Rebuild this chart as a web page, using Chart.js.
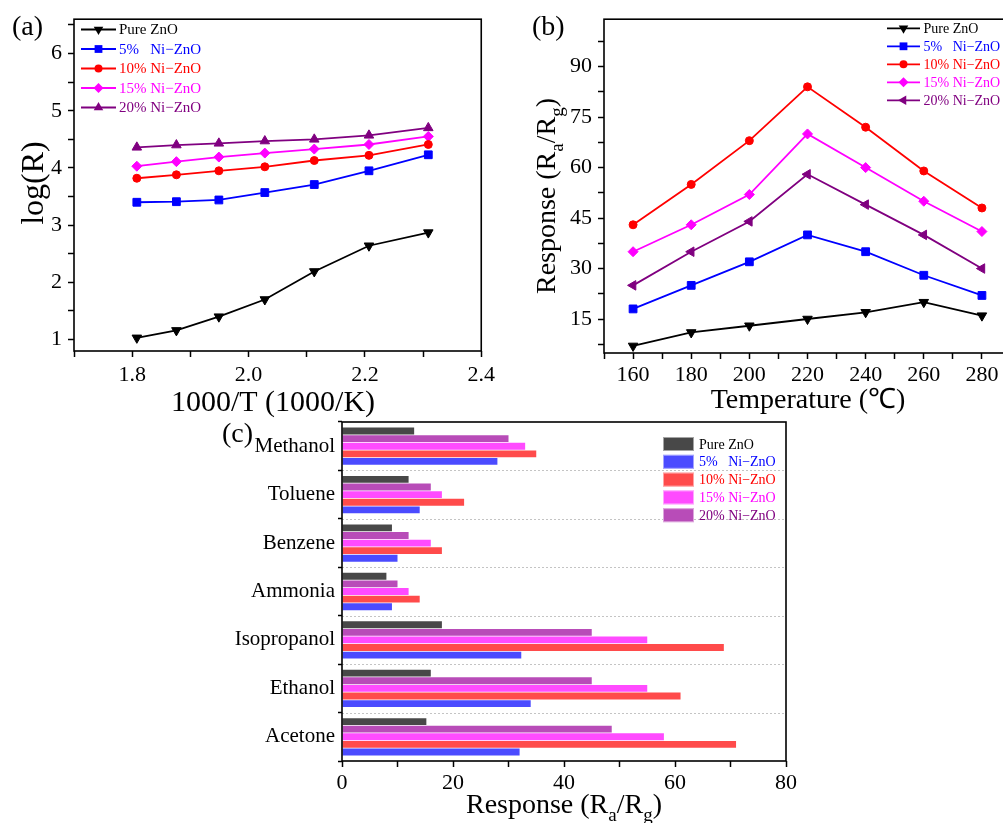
<!DOCTYPE html>
<html>
<head>
<meta charset="utf-8">
<script src="https://cdn.jsdelivr.net/npm/chart.js@4.4.1/dist/chart.umd.min.js"></script>
<style>
  html, body { margin: 0; padding: 0; background: #fff; overflow: hidden; width: 1003px; height: 823px; }
  canvas { position: absolute; }
</style>
</head>
<body>
<canvas id="chartA" width="500" height="420" style="left:0;top:0"></canvas>
<canvas id="chartB" width="515" height="420" style="left:500px;top:0"></canvas>
<canvas id="chartC" width="600" height="418" style="left:210px;top:405px"></canvas>
<script>
const FONT = '"Liberation Serif", "Times New Roman", serif';

// series shared by all three panels
const seriesNames = ['Pure ZnO', '5%   Ni\u2212ZnO', '10% Ni\u2212ZnO', '15% Ni\u2212ZnO', '20% Ni\u2212ZnO'];
const lineColors = ['#000000', '#0000ff', '#ff0000', '#ff00ff', '#800080'];
const barColors = ['#484848', '#4b4bff', '#ff4b4b', '#ff4bff', '#b84cb8'];

// (a) log(R) vs 1000/T
const invT = [1.808, 1.876, 1.949, 2.028, 2.113, 2.207, 2.309];
const logPure = [1.03, 1.16, 1.40, 1.70, 2.19, 2.64, 2.87];
const log5 = [3.40, 3.41, 3.44, 3.57, 3.71, 3.95, 4.23];
const log10 = [3.82, 3.88, 3.95, 4.02, 4.13, 4.22, 4.41];
const log15 = [4.03, 4.11, 4.19, 4.26, 4.33, 4.41, 4.55];
const log20 = [4.36, 4.40, 4.43, 4.47, 4.50, 4.57, 4.70];
const aTicksX = [1.7, 1.8, 1.9, 2.0, 2.1, 2.2, 2.3, 2.4];
const aTicksY = [1, 1.5, 2, 2.5, 3, 3.5, 4, 4.5, 5, 5.5, 6, 6.5];

// (b) response vs operating temperature
const temps = [160, 180, 200, 220, 240, 260, 280];
const respPure = [7, 11, 13, 15, 17, 20, 16];
const resp5 = [18, 25, 32, 40, 35, 28, 22];
const resp10 = [43, 55, 68, 84, 72, 59, 48];
const resp15 = [35, 43, 52, 70, 60, 50, 41];
const resp20 = [25, 35, 44, 58, 49, 40, 30];
const bTicksX = [150, 160, 170, 180, 190, 200, 210, 220, 230, 240, 250, 260, 270, 280, 290];
const bTicksY = [7.5, 15, 22.5, 30, 37.5, 45, 52.5, 60, 67.5, 75, 82.5, 90, 97.5];

// (c) response to different gases
const gases = ['Methanol', 'Toluene', 'Benzene', 'Ammonia', 'Isopropanol', 'Ethanol', 'Acetone'];
const gasPure = [13, 12, 9, 8, 18, 16, 15.2];
const gas5 = [28, 14, 10, 9, 32.3, 34, 32];
const gas10 = [35, 22, 18, 14, 68.8, 61, 71];
const gas15 = [33, 18, 16, 12, 55, 55, 58];
const gas20 = [30, 16, 12, 10, 45, 45, 48.6];
const cTicksX = [0, 10, 20, 30, 40, 50, 60, 70, 80];

const markersA = [
  { style: 'triangle', rot: 180, r: 5.5 },
  { style: 'rect', rot: 0, r: 5.5 },
  { style: 'circle', rot: 0, r: 4 },
  { style: 'rectRot', rot: 0, r: 5 },
  { style: 'triangle', rot: 0, r: 5.5 }
];
const markersB = markersA.map((m, i) => i === 4 ? { style: 'triangle', rot: 270, r: 5.5 } : m);

function richText(ctx, parts, x, y, size, angle) {
  ctx.save();
  ctx.translate(x, y);
  ctx.rotate(angle || 0);
  ctx.textBaseline = 'alphabetic';
  ctx.textAlign = 'left';
  ctx.fillStyle = '#000';
  const runs = parts.map(p => {
    const s = p.sub ? size * 0.68 : size;
    ctx.font = s + 'px ' + FONT;
    return { t: p.t, s: s, sub: p.sub, w: ctx.measureText(p.t).width };
  });
  let cx = -runs.reduce((a, r) => a + r.w, 0) / 2;
  runs.forEach(r => {
    ctx.font = r.s + 'px ' + FONT;
    ctx.fillText(r.t, cx, r.sub ? size * 0.28 : 0);
    cx += r.w;
  });
  ctx.restore();
}

function drawMarker(ctx, m, x, y) {
  if (Chart.helpers && Chart.helpers.drawPoint) {
    Chart.helpers.drawPoint(ctx, { pointStyle: m.style, rotation: m.rot, radius: m.r, borderWidth: 0 }, x, y);
  } else {
    ctx.beginPath(); ctx.arc(x, y, m.r, 0, Math.PI * 2); ctx.fill();
  }
}

// frame, titles, panel tag, legend and dotted separators
const panelDecor = {
  id: 'panelDecor',
  beforeDatasetsDraw(chart, args, opts) {
    if (!opts.dotted) return;
    const { ctx, chartArea: a } = chart;
    const ys = chart.scales.y;
    ctx.save();
    ctx.strokeStyle = '#c4c4c4';
    ctx.lineWidth = 1;
    ctx.setLineDash([2, 2]);
    for (let i = 1; i < ys.ticks.length; i++) {
      const y = Math.round((ys.getPixelForTick(i - 1) + ys.getPixelForTick(i)) / 2) + 0.5;
      ctx.beginPath(); ctx.moveTo(a.left, y); ctx.lineTo(a.right, y); ctx.stroke();
    }
    ctx.restore();
  },
  afterDraw(chart, args, opts) {
    const { ctx, chartArea: a } = chart;
    ctx.save();
    ctx.strokeStyle = '#000';
    ctx.lineWidth = 1.6;
    ctx.strokeRect(a.left, a.top, a.right - a.left, a.bottom - a.top);

    (opts.titles || []).forEach(t => richText(ctx, t.parts, t.x, t.y, t.size, t.angle));

    ctx.font = '28px ' + FONT;
    ctx.fillStyle = '#000';
    ctx.textAlign = 'left';
    ctx.textBaseline = 'alphabetic';
    ctx.fillText(opts.tag.text, opts.tag.x, opts.tag.y);

    const lg = opts.legend;
    ctx.font = lg.size + 'px ' + FONT;
    ctx.textBaseline = 'middle';
    seriesNames.forEach((name, i) => {
      const y = lg.y + i * lg.step;
      if (lg.bars) {
        ctx.fillStyle = barColors[i];
        ctx.fillRect(lg.x, y - 7, 31, 14);
        ctx.strokeStyle = 'rgba(255,255,255,0.5)';
        ctx.lineWidth = 1;
        ctx.strokeRect(lg.x + 0.5, y - 6.5, 30, 13);
      } else {
        ctx.strokeStyle = lineColors[i];
        ctx.lineWidth = 1.8;
        ctx.beginPath(); ctx.moveTo(lg.x, y); ctx.lineTo(lg.x + lg.len, y); ctx.stroke();
        ctx.fillStyle = lineColors[i];
        drawMarker(ctx, lg.markers[i], lg.x + lg.len / 2, y);
      }
      ctx.fillStyle = lineColors[i];
      ctx.fillText(name, lg.tx, y + 1);
    });
    ctx.restore();
  }
};

function tickAxis(tickValues, fit, label, pad, extra) {
  return Object.assign({
    type: 'linear',
    grid: { drawOnChartArea: false, drawTicks: true, tickLength: 6, tickColor: '#000', tickWidth: 1.5 },
    border: { display: false },
    ticks: { color: '#000', font: { family: FONT, size: 22 }, padding: pad, autoSkip: false, maxRotation: 0, callback: label },
    afterBuildTicks: s => { s.ticks = tickValues.map(v => ({ value: v })); },
    afterFit: fit
  }, extra);
}

function lineSets(xs, series, markers) {
  return series.map((ys, i) => ({
    label: seriesNames[i],
    data: xs.map((x, k) => ({ x: x, y: ys[k] })),
    borderColor: lineColors[i],
    backgroundColor: lineColors[i],
    pointBackgroundColor: lineColors[i],
    pointBorderColor: lineColors[i],
    pointBorderWidth: 1,
    pointStyle: markers[i].style,
    pointRotation: markers[i].rot,
    pointRadius: markers[i].r,
    borderWidth: 1.8,
    tension: 0
  }));
}

const base = {
  responsive: false,
  animation: false,
  devicePixelRatio: 1,
  events: []
};

new Chart(document.getElementById('chartA'), {
  type: 'line',
  data: { datasets: lineSets(invT, [logPure, log5, log10, log15, log20], markersA) },
  options: Object.assign({}, base, {
    layout: { autoPadding: false, padding: { left: 0, top: 15, right: 18, bottom: 0 } },
    scales: {
      x: tickAxis(aTicksX, s => { s.height = 69; }, v => Math.round(v * 10) % 2 === 0 ? v.toFixed(1) : '', 5, { min: 1.7, max: 2.4 }),
      y: tickAxis(aTicksY, s => { s.width = 74; }, v => Number.isInteger(v) ? String(v) : '', 6, { min: 0.8, max: 6.6 })
    },
    plugins: {
      legend: { display: false },
      tooltip: { enabled: false },
      panelDecor: {
        tag: { text: '(a)', x: 12, y: 35 },
        titles: [
          { parts: [{ t: '1000/T (1000/K)' }], x: 273, y: 411, size: 30 },
          { parts: [{ t: 'log(R)' }], x: 43, y: 183, size: 32, angle: -Math.PI / 2 }
        ],
        legend: { x: 81, len: 35, tx: 119, y: 29.5, step: 19.5, size: 15, markers: markersA }
      }
    }
  }),
  plugins: [panelDecor]
});

new Chart(document.getElementById('chartB'), {
  type: 'line',
  data: { datasets: lineSets(temps, [respPure, resp5, resp10, resp15, resp20], markersB) },
  options: Object.assign({}, base, {
    layout: { autoPadding: false, padding: { left: 0, top: 13, right: 4, bottom: 0 } },
    scales: {
      x: tickAxis(bTicksX, s => { s.height = 67; }, v => v % 20 === 0 ? String(v) : '', 3, { min: 150, max: 290 }),
      y: tickAxis(bTicksY, s => { s.width = 104; }, v => v % 15 === 0 ? String(v) : '', 6, { min: 4.9, max: 104.1 })
    },
    plugins: {
      legend: { display: false },
      tooltip: { enabled: false },
      panelDecor: {
        tag: { text: '(b)', x: 32, y: 35 },
        titles: [
          { parts: [{ t: 'Temperature (\u2103)' }], x: 308, y: 408, size: 28 },
          { parts: [{ t: 'Response (R' }, { t: 'a', sub: true }, { t: '/R' }, { t: 'g', sub: true }, { t: ')' }], x: 55, y: 196, size: 28, angle: -Math.PI / 2 }
        ],
        legend: { x: 387, len: 33, tx: 423.5, y: 28.3, step: 18, size: 14, markers: markersB }
      }
    }
  }),
  plugins: [panelDecor]
});

// bars inside each gas group run top to bottom: Pure, 20%, 15%, 10%, 5%
const barOrder = [0, 4, 3, 2, 1];
const gasSeries = [gasPure, gas5, gas10, gas15, gas20];

new Chart(document.getElementById('chartC'), {
  type: 'bar',
  data: {
    labels: gases,
    datasets: barOrder.map(i => ({
      label: seriesNames[i],
      data: gasSeries[i],
      backgroundColor: barColors[i],
      borderWidth: 0,
      barPercentage: 0.9,
      categoryPercentage: 0.785
    }))
  },
  options: Object.assign({}, base, {
    indexAxis: 'y',
    layout: { autoPadding: false, padding: { left: 0, top: 17, right: 24, bottom: 0 } },
    scales: {
      x: tickAxis(cTicksX, s => { s.height = 62; }, v => v % 20 === 0 ? String(v) : '', 3, { min: 0, max: 80 }),
      y: {
        type: 'category',
        grid: { drawOnChartArea: false, drawTicks: true, tickLength: 4, tickColor: '#000', tickWidth: 1.5, offset: true },
        border: { display: false },
        ticks: { color: '#000', font: { family: FONT, size: 21 }, padding: 3, autoSkip: false },
        afterFit: s => { s.width = 132; }
      }
    },
    plugins: {
      legend: { display: false },
      tooltip: { enabled: false },
      panelDecor: {
        dotted: true,
        tag: { text: '(c)', x: 12, y: 37 },
        titles: [
          { parts: [{ t: 'Response (R' }, { t: 'a', sub: true }, { t: '/R' }, { t: 'g', sub: true }, { t: ')' }], x: 354, y: 408, size: 28 }
        ],
        legend: { bars: true, x: 453, tx: 489, y: 39, step: 17.8, size: 14 }
      }
    }
  }),
  plugins: [panelDecor]
});
</script>
</body>
</html>
